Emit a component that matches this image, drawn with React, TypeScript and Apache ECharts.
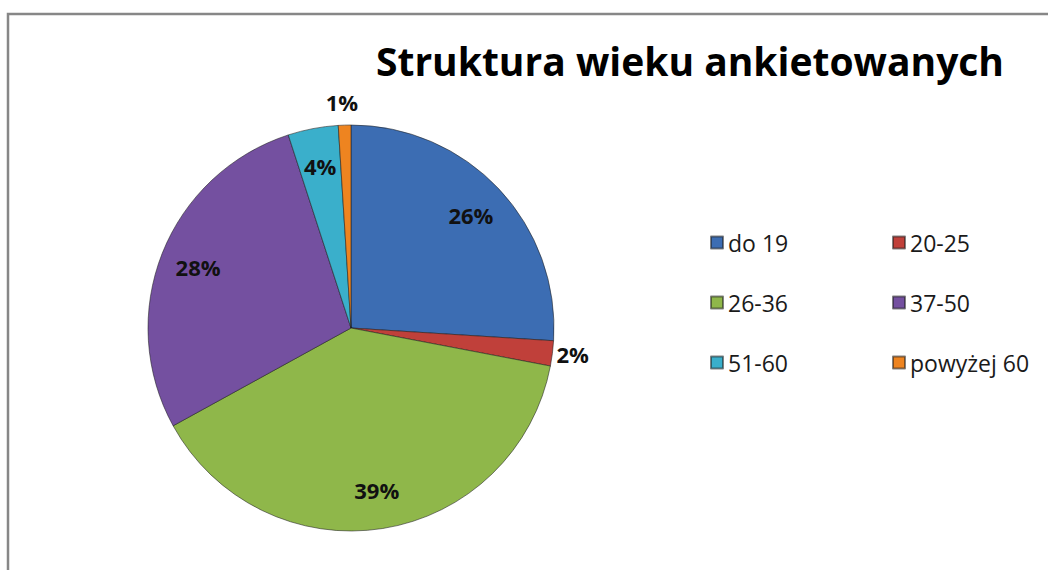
import React, { useEffect, useRef } from "react";
import * as echarts from "echarts";

const TITLE = "Struktura wieku ankietowanych";
const CATEGORIES = ["do 19", "20-25", "26-36", "37-50", "51-60", "powyżej 60"];
const VALUES = [26, 2, 39, 28, 4, 1];
const COLORS = ["#3C6DB3", "#C0403A", "#8FB74A", "#7450A0", "#3AAFCB", "#EE8420"];
const OUTSIDE_LABELS = ["20-25", "powyżej 60"];
const LEFT_LEGEND = ["do 19", "26-36", "51-60"];
const RIGHT_LEGEND = ["20-25", "37-50", "powyżej 60"];

export default function App() {
  const ref = useRef<HTMLDivElement>(null);
  useEffect(() => {
    if (!ref.current) return;
    const chart = echarts.init(ref.current, undefined, { renderer: "svg" });
    const font = "'Open Sans', 'Noto Sans', sans-serif";
    const mainData = CATEGORIES.map((name, i) => ({
      name,
      value: VALUES[i],
      itemStyle: { color: COLORS[i] },
    }));
    const labelData = CATEGORIES.map((name, i) => {
      const outside = OUTSIDE_LABELS.includes(name);
      return {
        name,
        value: VALUES[i],
        label: outside ? { position: "outside" } : { position: "inside" },
        labelLine: { show: false, length: name === "powyżej 60" ? 23 : 2, length2: 0 },
      };
    });
    const legendCommon = {
      orient: "vertical",
      padding: 0,
      itemWidth: 12,
      itemHeight: 12,
      itemGap: 37,
      icon: "rect",
      textStyle: { fontFamily: font, fontSize: 23, color: "#1a1a1a", padding: [0, 0, 0, 0] },
      selectedMode: false,
    };
    chart.setOption({
      animation: false,
      backgroundColor: "#ffffff",
      title: {
        text: TITLE,
        left: 690,
        top: 41,
        padding: 0,
        textAlign: "center",
        textStyle: { fontFamily: font, fontSize: 39, fontWeight: "bold", color: "#000" },
      },
      legend: [
        { ...legendCommon, data: LEFT_LEGEND, left: 710, top: 231 },
        { ...legendCommon, data: RIGHT_LEGEND, left: 892, top: 231 },
      ],
      graphic: [
        {
          type: "rect",
          shape: { x: 8, y: 14, width: 1100, height: 600 },
          style: { fill: "none", stroke: "#878787", lineWidth: 2.5 },
          silent: true,
        },
      ],
      series: [
        {
          type: "pie",
          center: [351, 328],
          radius: 203,
          startAngle: 90,
          clockwise: true,
          avoidLabelOverlap: false,
          label: { show: false },
          labelLine: { show: false },
          itemStyle: { borderColor: "rgba(30,30,30,0.55)", borderWidth: 1 },
          emphasis: { disabled: true },
          data: mainData,
        },
        {
          type: "pie",
          center: [351, 328],
          radius: [120, 203],
          startAngle: 90,
          clockwise: true,
          silent: true,
          avoidLabelOverlap: false,
          itemStyle: { color: "rgba(0,0,0,0)" },
          emphasis: { disabled: true },
          label: {
            show: true,
            formatter: "{c}%",
            fontFamily: font,
            fontSize: 22,
            fontWeight: "bold",
            color: "#111",
            distanceToLabelLine: 2,
          },
          labelLayout: (params: any) =>
            CATEGORIES[params.dataIndex] === "powyżej 60" ? { align: "center" } : {},
          data: labelData,
        },
      ],
    });
    return () => chart.dispose();
  }, []);
  return (
    <div
      ref={ref}
      style={{ position: "absolute", left: 0, top: 0, width: 1048, height: 570 }}
    />
  );
}
